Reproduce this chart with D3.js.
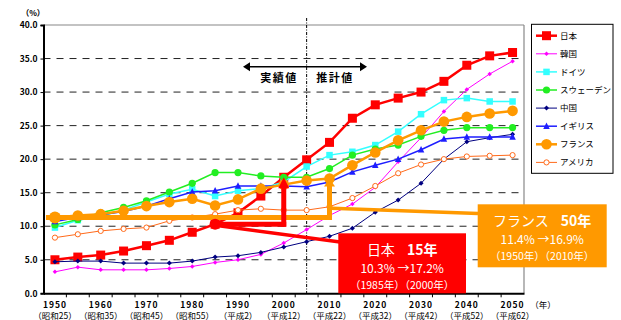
<!DOCTYPE html>
<html><head><meta charset="utf-8">
<script src="https://cdn.jsdelivr.net/npm/d3@7/dist/d3.min.js"></script>
<style>body{margin:0;background:#fff}svg{display:block}text{font-family:"Noto Sans CJK JP","Liberation Sans",sans-serif}</style>
</head><body><svg id="c" width="621" height="320"></svg>
<script>
const years = [1950,1955,1960,1965,1970,1975,1980,1985,1990,1995,2000,2005,2010,2015,2020,2025,2030,2035,2040,2045,2050];
const yearLabels = ["1950","1960","1970","1980","1990","2000","2010","2020","2030","2040","2050"];
const eraLabels = ["（昭和25）","（昭和35）","（昭和45）","（昭和55）","（平成2）","（平成12）","（平成22）","（平成32）","（平成42）","（平成52）","（平成62）"];
const yTicks = [0,5,10,15,20,25,30,35,40];
const seriesNames = ["日本","韓国","ドイツ","スウェーデン","中国","イギリス","フランス","アメリカ"];
const japan   = [5.0,5.4,5.7,6.3,7.1,7.9,9.1,10.3,12.0,14.5,17.3,19.9,22.5,26.1,28.1,29.1,30.0,31.6,34.0,35.4,35.9];
const korea   = [3.2,3.9,3.5,3.5,3.5,3.7,4.0,4.6,5.0,5.8,7.5,9.5,11.6,13.3,15.8,19.6,23.2,27.1,30.4,32.7,34.6];
const germany = [9.8,10.9,11.5,12.4,13.6,14.8,15.5,14.5,15.3,15.6,16.6,18.9,20.6,21.1,22.1,24.1,26.7,28.8,29.1,28.6,28.6];
const sweden  = [10.2,11.0,12.0,12.8,13.8,15.1,16.4,18.0,18.0,17.5,17.3,17.3,18.6,20.6,21.5,22.1,23.4,24.3,24.7,24.7,24.7];
const china   = [4.7,4.8,4.8,4.5,4.5,4.5,4.8,5.4,5.6,6.1,6.9,7.7,8.5,9.7,12.1,13.9,16.4,20.0,22.6,23.2,23.7];
const uk      = [10.7,11.3,11.7,12.2,13.0,14.1,15.1,15.3,16.0,16.0,16.0,15.9,16.6,18.1,19.1,20.0,21.4,23.0,23.3,23.3,23.3];
const france  = [11.3,11.6,11.8,12.3,13.0,13.6,14.1,13.1,14.0,15.6,16.2,16.8,17.1,19.1,21.0,22.8,24.3,25.6,26.3,26.8,27.2];
const america = [8.3,8.8,9.3,9.6,9.8,10.8,11.3,11.8,12.4,12.6,12.4,12.4,12.9,14.2,16.0,17.9,19.2,20.0,20.4,20.5,20.6];
const allSeries = [japan,korea,germany,sweden,china,uk,france,america];

const styles = [
 {color:"#FF0000", w:2.5, m:"square", s:9},
 {color:"#FF00FF", w:1, m:"diamond", s:4.5},
 {color:"#33FFFF", w:1.5, m:"square", s:6.5},
 {color:"#22EE22", w:1.5, m:"circle", s:3.6},
 {color:"#000080", w:1, m:"diamond", s:5},
 {color:"#1E1EFF", w:1.5, m:"triangle", s:6.5},
 {color:"#FF9900", w:2.5, m:"circle", s:5.3},
 {color:"#FF6A1A", w:1, m:"hollow", s:2.6}
];

const svg = d3.select("#c");
const L=43.5, R=524, T=25, B=293.3;
const x = d3.scaleBand().domain(years).range([L,R]).padding(0);
const cx = v => x(v)+x.bandwidth()/2;
const y = d3.scaleLinear().domain([0,40]).range([B,T]);

// gridlines
svg.append("g").selectAll("line").data(yTicks.filter(t=>t>0&&t<40)).join("line")
 .attr("x1",L).attr("x2",R).attr("y1",d=>y(d)).attr("y2",d=>y(d))
 .attr("stroke","#222").attr("stroke-width",1).attr("stroke-dasharray","7,6");
// plot border top/right
svg.append("line").attr("x1",L).attr("x2",R).attr("y1",y(40)).attr("y2",y(40)).attr("stroke","#888").attr("stroke-width",1.2);
svg.append("line").attr("x1",R).attr("x2",R).attr("y1",y(40)).attr("y2",B).attr("stroke","#888").attr("stroke-width",1.2);

// axes
const yAxis = d3.axisLeft(y).tickValues(yTicks).tickSize(3).tickFormat(d3.format(".1f"));
const gy = svg.append("g").attr("transform",`translate(${L},0)`).call(yAxis);
gy.select(".domain").attr("stroke","#000").attr("stroke-width",2);
gy.selectAll(".tick line").attr("stroke","#000");
gy.selectAll("text").attr("x",-6).attr("font-size",8.5).attr("font-weight","bold").attr("fill","#000").attr("font-family","Liberation Sans, sans-serif");

const xAxis = d3.axisBottom(x).tickSize(0).tickFormat("");
const gx = svg.append("g").attr("transform",`translate(0,${B})`).call(xAxis);
gx.select(".domain").attr("stroke","#000").attr("stroke-width",2);
svg.append("g").selectAll("line").data(years.slice(1)).join("line")
 .attr("x1",d=>x(d)).attr("x2",d=>x(d)).attr("y1",B).attr("y2",B+4).attr("stroke","#000");

svg.append("g").selectAll("text").data(yearLabels).join("text")
 .attr("x",d=>cx(+d)).attr("y",308).attr("text-anchor","middle")
 .attr("font-size",8.5).attr("font-weight","bold").attr("letter-spacing",1).text(d=>d);
svg.append("g").selectAll("text").data(eraLabels).join("text")
 .attr("x",(d,i)=>cx(+yearLabels[i])).attr("y",319).attr("text-anchor","middle")
 .attr("font-size",8.5).text(d=>d);
svg.append("text").attr("x",543).attr("y",308).attr("text-anchor","middle").attr("font-size",8.5).text("（年）");
svg.append("text").attr("x",33).attr("y",16).attr("text-anchor","middle").attr("font-size",8).attr("font-weight","bold").text("（%）");

// dashed vertical 2005
svg.append("line").attr("x1",cx(2005)).attr("x2",cx(2005)).attr("y1",18).attr("y2",B)
 .attr("stroke","#000").attr("stroke-width",1).attr("stroke-dasharray","3,1.5,1,1.5");

// 実績値 推計値 arrow
const ay=66.7, ax1=243, ax2=367;
svg.append("line").attr("x1",ax1+6).attr("x2",ax2-6).attr("y1",ay).attr("y2",ay).attr("stroke","#000").attr("stroke-width",1.5);
svg.append("path").attr("d",`M${ax1},${ay}L${ax1+7},${ay-4.5}L${ax1+7},${ay+4.5}Z M${ax2},${ay}L${ax2-7},${ay-4.5}L${ax2-7},${ay+4.5}Z`).attr("fill","#000");
svg.append("text").attr("x",279).attr("y",82).attr("text-anchor","middle").attr("font-size",11).attr("font-weight","bold").attr("letter-spacing",1.5).text("実績値");
svg.append("text").attr("x",335).attr("y",82).attr("text-anchor","middle").attr("font-size",11).attr("font-weight","bold").attr("letter-spacing",1.5).text("推計値");

// markers
function marker(g, st, px, py, fill){
  const s=st.s;
  if(st.m==="square") g.append("rect").attr("x",px-s/2).attr("y",py-s/2).attr("width",s).attr("height",s).attr("fill",st.color);
  else if(st.m==="circle") g.append("circle").attr("cx",px).attr("cy",py).attr("r",s).attr("fill",st.color);
  else if(st.m==="hollow") g.append("circle").attr("cx",px).attr("cy",py).attr("r",s).attr("fill","#fff").attr("stroke",st.color).attr("stroke-width",1);
  else if(st.m==="diamond") g.append("path").attr("d",`M${px},${py-s/2}L${px+s/2},${py}L${px},${py+s/2}L${px-s/2},${py}Z`).attr("fill",st.color);
  else if(st.m==="triangle") g.append("path").attr("d",`M${px},${py-s/2-0.5}L${px+s/2},${py+s/2-0.5}L${px-s/2},${py+s/2-0.5}Z`).attr("fill",st.color);
}
const line = d3.line().x((d,i)=>cx(years[i])).y(d=>y(d));
allSeries.forEach((data,k)=>{
  const st=styles[k];
  const g=svg.append("g");
  g.append("path").attr("d",line(data)).attr("fill","none").attr("stroke",st.color).attr("stroke-width",st.w);
  data.forEach((v,i)=>marker(g,st,cx(years[i]),y(v)));
});

// legend
const lg = svg.append("g");
lg.append("rect").attr("x",531.5).attr("y",24.3).attr("width",81.5).attr("height",149).attr("fill","#fff").attr("stroke","#000").attr("stroke-width",1);
seriesNames.forEach((n,k)=>{
  const st=styles[k]; const ly=35.7+k*18.1;
  lg.append("line").attr("x1",536).attr("x2",557).attr("y1",ly).attr("y2",ly).attr("stroke",st.color).attr("stroke-width",st.w);
  marker(lg,st,546.5,ly);
  lg.append("text").attr("x",560).attr("y",ly+3).attr("font-size",8.5).text(n);
});

// annotations: France
const fo="#FF9900";
const fy=y(france[0]);
svg.append("line").attr("x1",cx(1950)-9).attr("x2",cx(2010)+2.5).attr("y1",fy).attr("y2",fy).attr("stroke",fo).attr("stroke-width",5);
svg.append("line").attr("x1",cx(2010)).attr("x2",cx(2010)).attr("y1",fy+2.5).attr("y2",y(france[12])+6).attr("stroke",fo).attr("stroke-width",5);
svg.append("path").attr("d",`M${cx(2010)},${y(france[12])}L${cx(2010)+5.5},${y(france[12])+8}L${cx(2010)-5.5},${y(france[12])+8}Z`).attr("fill",fo);
svg.append("line").attr("x1",332).attr("x2",478).attr("y1",208.3).attr("y2",213.5).attr("stroke",fo).attr("stroke-width",3.5);
svg.append("circle").attr("cx",cx(1950)).attr("cy",y(france[0])).attr("r",6).attr("fill",fo);

// Japan
const jr="#FF0000";
const jy=y(japan[7]);
svg.append("line").attr("x1",cx(1985)).attr("x2",cx(2000)+2.5).attr("y1",jy).attr("y2",jy).attr("stroke",jr).attr("stroke-width",5);
svg.append("line").attr("x1",cx(2000)).attr("x2",cx(2000)).attr("y1",jy+2.5).attr("y2",y(japan[10])+8).attr("stroke",jr).attr("stroke-width",5);
svg.append("path").attr("d",`M${cx(2000)},${y(japan[10])}L${cx(2000)+5.5},${y(japan[10])+11}L${cx(2000)-5.5},${y(japan[10])+11}Z`).attr("fill",jr);
svg.append("line").attr("x1",cx(1985)).attr("x2",340).attr("y1",jy+1).attr("y2",242).attr("stroke",jr).attr("stroke-width",3.5);
svg.append("circle").attr("cx",cx(1985)).attr("cy",jy).attr("r",5.5).attr("fill",jr);

// boxes
function box(x0,y0,w,h,col,t1a,t1b,t2,t3){
  const g=svg.append("g");
  g.append("rect").attr("x",x0).attr("y",y0).attr("width",w).attr("height",h).attr("fill",col);
  const mx=x0+w/2;
  const t=g.append("text").attr("x",mx).attr("y",y0+22).attr("text-anchor","middle").attr("fill","#fff").attr("font-size",14);
  t.append("tspan").text(t1a);
  t.append("tspan").attr("font-weight","bold").attr("dx",12).text(t1b);
  g.append("text").attr("x",mx).attr("y",y0+40).attr("text-anchor","middle").attr("fill","#fff").attr("font-size",12).text(t2);
  g.append("text").attr("x",mx).attr("y",y0+56).attr("text-anchor","middle").attr("fill","#fff").attr("font-size",10.5).text(t3);
}
box(338.3,233.3,127.7,60,"#FF0000","日本","15年","10.3% →17.2%","（1985年）（2000年）");
box(477.7,204.3,129,63,"#FF9900","フランス","50年","11.4% →16.9%","（1950年）（2010年）");
</script></body></html>
